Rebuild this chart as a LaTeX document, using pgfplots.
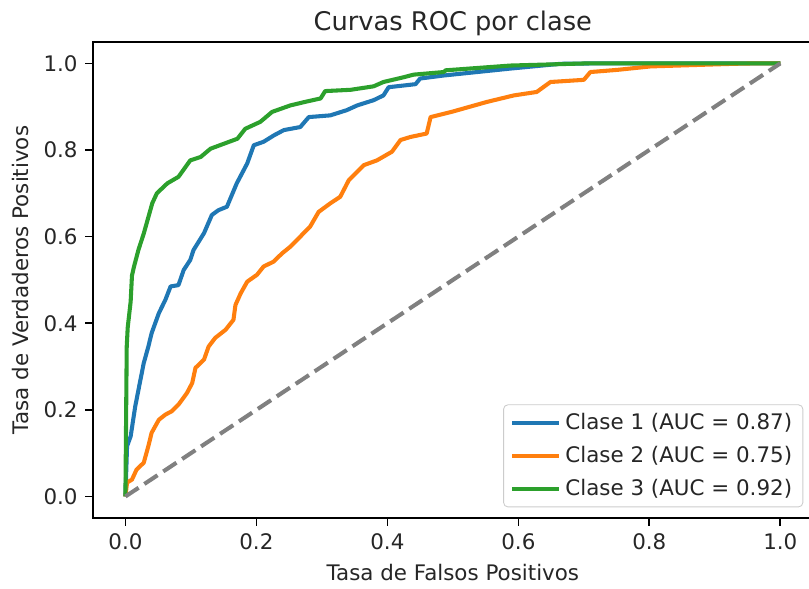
\documentclass[border=0pt]{standalone}
\usepackage{pgfplots}
\pgfplotsset{compat=1.18}
\usepackage{fontspec}
\setmainfont{DejaVu Sans}
\definecolor{c0}{HTML}{1F77B4}
\definecolor{c1}{HTML}{FF7F0E}
\definecolor{c2}{HTML}{2CA02C}
\begin{document}
\begin{tikzpicture}
\begin{axis}[
  scale only axis, width=336.6pt, height=222.6pt,
  xmin=-0.05, xmax=1.05, ymin=-0.05, ymax=1.05,
  xtick={0,0.2,0.4,0.6,0.8,1.0}, ytick={0,0.2,0.4,0.6,0.8,1.0},
  xticklabels={0.0,0.2,0.4,0.6,0.8,1.0},
  yticklabels={0.0,0.2,0.4,0.6,0.8,1.0},
  tick align=outside, tick pos=left, major tick length=3.5pt,
  tick style={black, line width=0.8pt},
  axis line style={line width=0.8pt},
  tick label style={font=\fontsize{10}{12}\selectfont, text=black!85},
  label style={font=\fontsize{10}{12}\selectfont, text=black!85},
  title style={font=\fontsize{12}{14}\selectfont, text=black!85, yshift=-7pt},
  title={Curvas ROC por clase},
  xlabel={Tasa de Falsos Positivos},
  ylabel={Tasa de Verdaderos Positivos},
  legend style={at={(0.9864,0.0227)}, anchor=south east, draw=black!20,
    rounded corners=2pt, fill=white, fill opacity=0.8, text opacity=1,
    font=\fontsize{10}{12}\selectfont, text=black!85, row sep=2.2pt,
    inner xsep=3pt, inner ysep=2pt},
  legend cell align=left,
  legend image code/.code={\draw[#1, line width=1.9pt] (0pt,0pt) -- (22pt,0pt);},
  every axis plot/.append style={line width=1.9pt, line join=round},
]
\addplot[c0] coordinates {
(0,0)(0.0025,0.116)(0.008,0.139)(0.015,0.208)(0.023,0.27)(0.028,0.308)
(0.035,0.346)(0.040,0.377)(0.051,0.423)(0.061,0.454)(0.069,0.485)(0.081,0.488)
(0.089,0.523)(0.099,0.546)(0.104,0.569)(0.120,0.608)(0.132,0.65)(0.142,0.661)
(0.155,0.669)(0.170,0.723)(0.178,0.746)(0.186,0.769)(0.196,0.811)(0.211,0.819)
(0.227,0.834)(0.242,0.846)(0.267,0.853)(0.280,0.876)(0.313,0.880)(0.338,0.892)
(0.354,0.903)(0.379,0.915)(0.394,0.926)(0.402,0.945)(0.443,0.952)(0.450,0.965)
(0.486,0.972)(0.588,0.988)(0.664,0.999)(0.72,1.0)(1,1)};
\addlegendentry{Clase 1 (AUC = 0.87)}
\addplot[c1] coordinates {
(0,0)(0.0025,0.032)(0.010,0.039)(0.017,0.062)(0.028,0.078)(0.035,0.116)
(0.040,0.147)(0.051,0.177)(0.061,0.189)(0.071,0.197)(0.081,0.212)(0.094,0.239)
(0.102,0.262)(0.107,0.297)(0.120,0.316)(0.127,0.346)(0.137,0.366)(0.153,0.385)
(0.165,0.408)(0.168,0.442)(0.176,0.469)(0.186,0.496)(0.201,0.512)(0.211,0.531)
(0.226,0.542)(0.239,0.561)(0.252,0.577)(0.267,0.60)(0.282,0.623)(0.295,0.657)
(0.313,0.677)(0.328,0.692)(0.341,0.73)(0.364,0.765)(0.384,0.776)(0.407,0.796)
(0.420,0.823)(0.435,0.830)(0.460,0.838)(0.466,0.876)(0.498,0.888)(0.552,0.911)
(0.593,0.926)(0.628,0.934)(0.649,0.957)(0.700,0.962)(0.710,0.980)(0.751,0.985)
(0.802,0.993)(0.929,0.999)(0.96,1.0)(1,1)};
\addlegendentry{Clase 2 (AUC = 0.75)}
\addplot[c2] coordinates {
(0,0)(0.002,0.346)(0.0035,0.39)(0.008,0.45)(0.010,0.51)(0.013,0.53)(0.020,0.57)
(0.028,0.607)(0.041,0.677)(0.048,0.70)(0.064,0.723)(0.081,0.738)(0.099,0.776)
(0.115,0.784)(0.130,0.803)(0.171,0.826)(0.183,0.849)(0.206,0.865)(0.224,0.888)
(0.252,0.903)(0.277,0.912)(0.298,0.919)(0.305,0.936)(0.344,0.939)(0.379,0.947)
(0.394,0.957)(0.425,0.968)(0.440,0.974)(0.486,0.98)(0.489,0.984)(0.588,0.995)
(0.705,1.0)(1,1)};
\addlegendentry{Clase 3 (AUC = 0.92)}
\addplot[gray, dashed, dash pattern=on 7.4pt off 3.2pt, forget plot] coordinates {(0,0)(1,1)};
\end{axis}
\pgfresetboundingbox
\path[use as bounding box] ([xshift=-43.3pt,yshift=-32.7pt]current axis.south west) rectangle ([xshift=-1.9pt,yshift=19.5pt]current axis.north east);
\end{tikzpicture}
\end{document}
